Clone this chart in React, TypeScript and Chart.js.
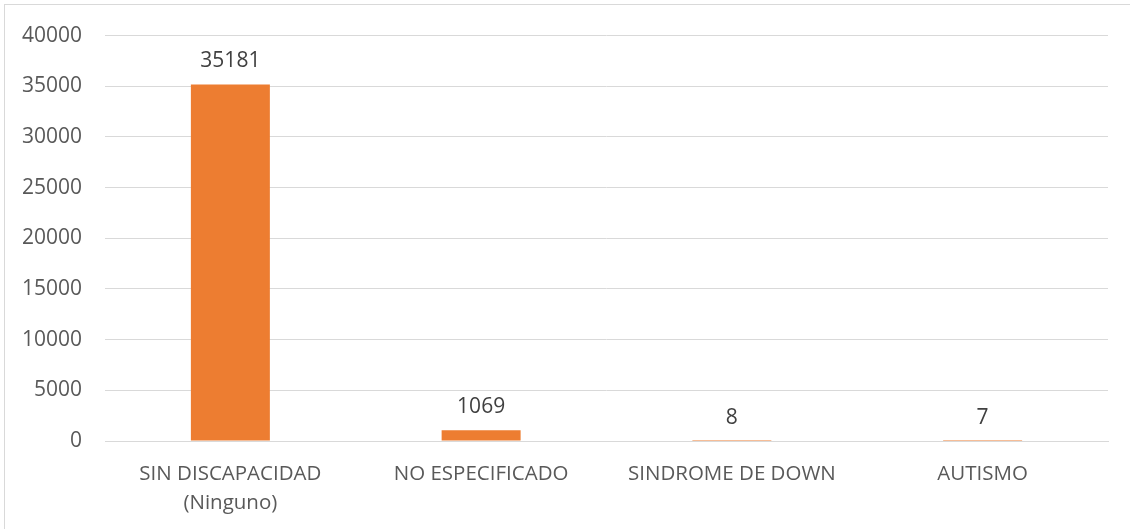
import React, { useEffect, useRef } from "react";
import { Chart, registerables } from "chart.js";

Chart.register(...registerables);

const categories: (string | string[])[] = [
  ["SIN DISCAPACIDAD", "(Ninguno)"],
  "NO ESPECIFICADO",
  "SINDROME DE DOWN",
  "AUTISMO",
];
const values = [35181, 1069, 8, 7];
const yMin = 0;
const yMax = 40000;
const yStep = 5000;

const FONT = "'Open Sans', sans-serif";

const valueLabels = {
  id: "valueLabels",
  afterDatasetsDraw(chart: any) {
    const ctx = chart.ctx;
    const meta = chart.getDatasetMeta(0);
    ctx.save();
    ctx.font = `21px ${FONT}`;
    ctx.fillStyle = "#404040";
    ctx.textAlign = "center";
    ctx.textBaseline = "alphabetic";
    meta.data.forEach((bar: any, i: number) => {
      ctx.fillText(String(values[i]), bar.x, bar.y - 17);
    });
    ctx.restore();
  },
};

export default function App() {
  const ref = useRef<HTMLCanvasElement>(null);
  useEffect(() => {
    if (!ref.current) return;
    const chart = new Chart(ref.current, {
      type: "bar",
      data: {
        labels: categories as any,
        datasets: [
          {
            data: values,
            backgroundColor: "#ED7D31",
            barPercentage: 0.63,
            categoryPercentage: 0.5,
          },
        ],
      },
      options: {
        animation: false,
        responsive: false,
        maintainAspectRatio: false,
        layout: { padding: { top: 33, right: 22, left: 0, bottom: 0 } },
        plugins: {
          legend: { display: false },
          tooltip: { enabled: false },
        },
        scales: {
          x: {
            grid: { display: false, drawTicks: false },
            border: { display: true, color: "#d9d9d9", width: 1 },
            ticks: {
              color: "#595959",
              font: { family: FONT, size: 20.5, lineHeight: 1.45 },
              padding: 18,
              maxRotation: 0,
              autoSkip: false,
            },
            afterFit(scale: any) {
              scale.height = 88;
            },
          },
          y: {
            min: yMin,
            max: yMax,
            grid: { color: "#d9d9d9", drawTicks: false, lineWidth: 1 },
            border: { display: false },
            ticks: {
              stepSize: yStep,
              color: "#595959",
              font: { family: FONT, size: 21 },
              padding: 23,
              callback: (v: any) => String(v),
            },
            afterFit(scale: any) {
              scale.width = 105;
            },
          },
        },
      },
      plugins: [valueLabels],
    });
    return () => chart.destroy();
  }, []);
  return (
    <div
      style={{
        position: "absolute",
        left: 0,
        top: 0,
        width: 1130,
        height: 529,
        background: "#fff",
        overflow: "hidden",
      }}
    >
      <div
        style={{
          position: "absolute",
          left: 4,
          top: 4,
          width: 1200,
          height: 600,
          border: "1px solid #d9d9d9",
          boxSizing: "border-box",
        }}
      />
      <canvas
        ref={ref}
        width={1130}
        height={529}
        style={{ position: "absolute", left: 0, top: 0, width: 1130, height: 529 }}
      />
    </div>
  );
}
